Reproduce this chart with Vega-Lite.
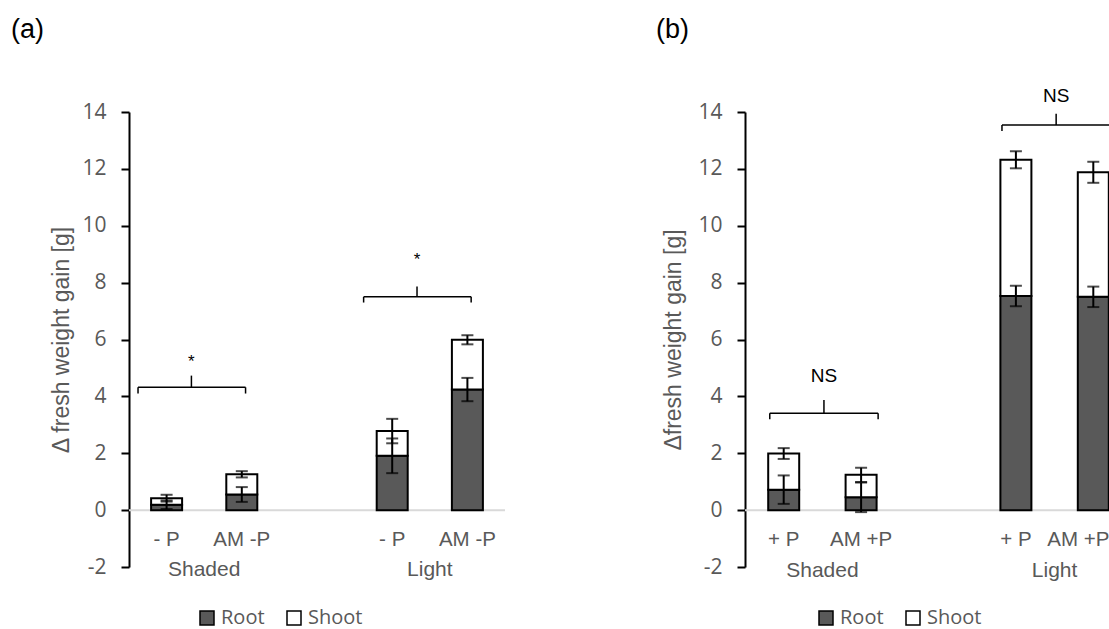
{
  "$schema": "https://vega.github.io/schema/vega-lite/v6.json",
  "padding": {"left": 11, "top": 16, "right": 0, "bottom": 0},
  "spacing": 150,
  "config": {
    "view": {"stroke": null},
    "axis": {"grid": false},
    "font": "Liberation Sans"
  },
  "datasets": {
    "bars": [
      {"panel": "a", "cat": "Shaded - P", "label": "- P", "part": "Root", "value": 0.19, "top": 0.19, "err": 0.15},
      {"panel": "a", "cat": "Shaded - P", "label": "- P", "part": "Shoot", "value": 0.23, "top": 0.42, "err": 0.12},
      {"panel": "a", "cat": "Shaded AM -P", "label": "AM -P", "part": "Root", "value": 0.55, "top": 0.55, "err": 0.26},
      {"panel": "a", "cat": "Shaded AM -P", "label": "AM -P", "part": "Shoot", "value": 0.71, "top": 1.26, "err": 0.11},
      {"panel": "a", "cat": "Light - P", "label": "- P", "part": "Root", "value": 1.91, "top": 1.91, "err": 0.61},
      {"panel": "a", "cat": "Light - P", "label": "- P", "part": "Shoot", "value": 0.87, "top": 2.78, "err": 0.43},
      {"panel": "a", "cat": "Light AM -P", "label": "AM -P", "part": "Root", "value": 4.24, "top": 4.24, "err": 0.41},
      {"panel": "a", "cat": "Light AM -P", "label": "AM -P", "part": "Shoot", "value": 1.75, "top": 5.99, "err": 0.16},
      {"panel": "b", "cat": "Shaded + P", "label": "+ P", "part": "Root", "value": 0.72, "top": 0.72, "err": 0.5},
      {"panel": "b", "cat": "Shaded + P", "label": "+ P", "part": "Shoot", "value": 1.27, "top": 1.99, "err": 0.19},
      {"panel": "b", "cat": "Shaded AM +P", "label": "AM +P", "part": "Root", "value": 0.45, "top": 0.45, "err": 0.52},
      {"panel": "b", "cat": "Shaded AM +P", "label": "AM +P", "part": "Shoot", "value": 0.79, "top": 1.24, "err": 0.25},
      {"panel": "b", "cat": "Light + P", "label": "+ P", "part": "Root", "value": 7.53, "top": 7.53, "err": 0.36},
      {"panel": "b", "cat": "Light + P", "label": "+ P", "part": "Shoot", "value": 4.79, "top": 12.32, "err": 0.3},
      {"panel": "b", "cat": "Light AM +P", "label": "AM +P", "part": "Root", "value": 7.5, "top": 7.5, "err": 0.36},
      {"panel": "b", "cat": "Light AM +P", "label": "AM +P", "part": "Shoot", "value": 4.38, "top": 11.88, "err": 0.37}
    ],
    "brackets": [
      {"panel": "a", "from": "Shaded - P", "to": "Shaded AM -P", "y": 4.32, "yEnd": 4.1, "yTop": 4.73, "label": "*", "labelY": 5.2},
      {"panel": "a", "from": "Light - P", "to": "Light AM -P", "y": 7.5, "yEnd": 7.3, "yTop": 7.86, "label": "*", "labelY": 8.8},
      {"panel": "b", "from": "Shaded + P", "to": "Shaded AM +P", "y": 3.41, "yEnd": 3.2, "yTop": 3.87, "label": "NS", "labelY": 4.7},
      {"panel": "b", "from": "Light + P", "to": "Light AM +P", "y": 13.54, "yEnd": 13.33, "yTop": 13.94, "label": "NS", "labelY": 14.56}
    ],
    "groups": [
      {"panel": "a", "group": "Shaded", "anchor": "Shaded - P"},
      {"panel": "a", "group": "Light", "anchor": "Light - P"},
      {"panel": "b", "group": "Shaded", "anchor": "Shaded + P"},
      {"panel": "b", "group": "Light", "anchor": "Light + P"}
    ]
  },
  "resolve": {"legend": {"fill": "independent"}},
  "hconcat": [
    {
      "width": 376,
      "height": 455,
      "title": {"text": "(a)", "anchor": "start", "frame": "group", "dx": -118, "offset": 36, "baseline": "alphabetic", "fontSize": 27, "fontWeight": "normal", "font": "Liberation Sans", "color": "black"},
      "layer": [
        {
          "data": {"values": [{"zero": 0}]},
          "mark": {"type": "rule", "color": "#d9d9d9", "strokeWidth": 2},
          "encoding": {
            "y": {"field": "zero", "type": "quantitative", "title": "Δ fresh weight gain [g]       ",
              "scale": {"domain": [-2, 14], "nice": false, "zero": false},
              "axis": {"title": "Δ fresh weight gain [g]       ", "values": [-2, 0, 2, 4, 6, 8, 10, 12, 14], "labelExpr": "'' + datum.value", "domainColor": "black", "domainWidth": 2, "tickColor": "black", "tickWidth": 2, "tickSize": 8, "labelPadding": 15, "labelFont": "Open Sans", "labelFontSize": 21, "labelColor": "#595959", "titleFont": "Liberation Sans", "titleFontSize": 23, "titleFontWeight": "normal", "titleColor": "#595959", "titlePadding": 8}}
          }
        },
        {
          "data": {"name": "bars"},
          "transform": [{"filter": "datum.panel === 'a'"}],
          "mark": {"type": "bar", "width": 31, "stroke": "black", "strokeWidth": 2},
          "encoding": {
            "x": {"field": "cat", "type": "nominal", "scale": {"domain": ["Shaded - P", "Shaded AM -P", " ", "Light - P", "Light AM -P"], "paddingInner": 0, "paddingOuter": 0}, "axis": null},
            "y": {"field": "value", "type": "quantitative", "stack": "zero", "title": "Δ fresh weight gain [g]       "},
            "fill": {"field": "part", "type": "nominal", "scale": {"domain": ["Root", "Shoot"], "range": ["#595959", "#ffffff"]},
              "legend": {"orient": "none", "legendX": 68, "legendY": 496, "direction": "horizontal", "title": null, "symbolType": "square", "symbolSize": 196, "symbolStrokeColor": "black", "symbolStrokeWidth": 1.5, "labelFont": "Open Sans", "labelFontSize": 20, "labelColor": "#595959", "labelOffset": 4, "columnPadding": 19}},
            "order": {"field": "part", "type": "nominal", "sort": "ascending"}
          }
        },
        {
          "data": {"name": "bars"},
          "transform": [{"filter": "datum.panel === 'a'"}],
          "mark": {"type": "errorbar", "color": "black", "ticks": {"size": 12, "thickness": 2, "color": "black"}, "rule": {"strokeWidth": 2, "color": "black"}},
          "encoding": {
            "x": {"field": "cat", "type": "nominal"},
            "y": {"field": "top", "type": "quantitative", "title": "Δ fresh weight gain [g]       "},
            "yError": {"field": "err"}
          }
        },
        {
          "data": {"name": "bars"},
          "transform": [{"filter": "datum.panel === 'a' && datum.part === 'Root'"}],
          "mark": {"type": "text", "font": "Liberation Sans", "fontSize": 20.5, "color": "#595959", "baseline": "middle"},
          "encoding": {
            "x": {"field": "cat", "type": "nominal"},
            "y": {"datum": -1.05},
            "text": {"field": "label"}
          }
        },
        {
          "data": {"name": "groups"},
          "transform": [{"filter": "datum.panel === 'a'"}],
          "mark": {"type": "text", "font": "Liberation Sans", "fontSize": 21, "color": "#595959", "baseline": "middle"},
          "encoding": {
            "x": {"field": "anchor", "type": "nominal", "bandPosition": 1},
            "y": {"datum": -2.12},
            "text": {"field": "group"}
          }
        },
        {
          "data": {"name": "brackets"},
          "transform": [{"filter": "datum.panel === 'a'"}],
          "mark": {"type": "rule", "color": "black", "strokeWidth": 1.5},
          "encoding": {
            "x": {"field": "from", "type": "nominal", "bandPosition": 0.12},
            "x2": {"field": "to", "bandPosition": 0.55},
            "y": {"field": "y", "type": "quantitative", "title": "Δ fresh weight gain [g]       "}
          }
        },
        {
          "data": {"name": "brackets"},
          "transform": [{"filter": "datum.panel === 'a'"}],
          "mark": {"type": "rule", "color": "black", "strokeWidth": 1.5},
          "encoding": {
            "x": {"field": "from", "type": "nominal", "bandPosition": 0.12},
            "y": {"field": "y", "type": "quantitative", "title": "Δ fresh weight gain [g]       "},
            "y2": {"field": "yEnd"}
          }
        },
        {
          "data": {"name": "brackets"},
          "transform": [{"filter": "datum.panel === 'a'"}],
          "mark": {"type": "rule", "color": "black", "strokeWidth": 1.5},
          "encoding": {
            "x": {"field": "to", "type": "nominal", "bandPosition": 0.55},
            "y": {"field": "y", "type": "quantitative", "title": "Δ fresh weight gain [g]       "},
            "y2": {"field": "yEnd"}
          }
        },
        {
          "data": {"name": "brackets"},
          "transform": [{"filter": "datum.panel === 'a'"}],
          "mark": {"type": "rule", "color": "black", "strokeWidth": 1.5},
          "encoding": {
            "x": {"field": "from", "type": "nominal", "bandPosition": 0.83},
            "y": {"field": "y", "type": "quantitative", "title": "Δ fresh weight gain [g]       "},
            "y2": {"field": "yTop"}
          }
        },
        {
          "data": {"name": "brackets"},
          "transform": [{"filter": "datum.panel === 'a'"}],
          "mark": {"type": "text", "font": "Liberation Sans", "fontSize": 17, "color": "black", "baseline": "middle"},
          "encoding": {
            "x": {"field": "from", "type": "nominal", "bandPosition": 0.83},
            "y": {"field": "labelY", "type": "quantitative", "title": "Δ fresh weight gain [g]       "},
            "text": {"field": "label"}
          }
        }
      ]
    },
    {
      "width": 367,
      "height": 455,
      "title": {"text": "(b)", "anchor": "start", "frame": "group", "dx": -89, "offset": 22, "baseline": "alphabetic", "fontSize": 27, "fontWeight": "normal", "font": "Liberation Sans", "color": "black"},
      "layer": [
        {
          "data": {"values": [{"zero": 0}]},
          "mark": {"type": "rule", "color": "#d9d9d9", "strokeWidth": 2},
          "encoding": {
            "y": {"field": "zero", "type": "quantitative", "title": "Δfresh weight gain [g]",
              "scale": {"domain": [-2, 14], "nice": false, "zero": false},
              "axis": {"title": "Δfresh weight gain [g]", "values": [-2, 0, 2, 4, 6, 8, 10, 12, 14], "labelExpr": "'' + datum.value", "domainColor": "black", "domainWidth": 2, "tickColor": "black", "tickWidth": 2, "tickSize": 8, "labelPadding": 15, "labelFont": "Open Sans", "labelFontSize": 21, "labelColor": "#595959", "titleFont": "Liberation Sans", "titleFontSize": 23, "titleFontWeight": "normal", "titleColor": "#595959", "titlePadding": 12}}
          }
        },
        {
          "data": {"name": "bars"},
          "transform": [{"filter": "datum.panel === 'b'"}],
          "mark": {"type": "bar", "width": 31, "stroke": "black", "strokeWidth": 2},
          "encoding": {
            "x": {"field": "cat", "type": "nominal", "scale": {"domain": ["Shaded + P", "Shaded AM +P", " ", "Light + P", "Light AM +P"], "paddingInner": 0, "paddingOuter": 0, "range": [0, 387]}, "axis": null},
            "y": {"field": "value", "type": "quantitative", "stack": "zero", "title": "Δfresh weight gain [g]"},
            "fill": {"field": "part", "type": "nominal", "scale": {"domain": ["Root", "Shoot"], "range": ["#595959", "#ffffff"]},
              "legend": {"orient": "none", "legendX": 71, "legendY": 496, "direction": "horizontal", "title": null, "symbolType": "square", "symbolSize": 196, "symbolStrokeColor": "black", "symbolStrokeWidth": 1.5, "labelFont": "Open Sans", "labelFontSize": 20, "labelColor": "#595959", "labelOffset": 4, "columnPadding": 19}},
            "order": {"field": "part", "type": "nominal", "sort": "ascending"}
          }
        },
        {
          "data": {"name": "bars"},
          "transform": [{"filter": "datum.panel === 'b'"}],
          "mark": {"type": "errorbar", "color": "black", "ticks": {"size": 12, "thickness": 2, "color": "black"}, "rule": {"strokeWidth": 2, "color": "black"}},
          "encoding": {
            "x": {"field": "cat", "type": "nominal"},
            "y": {"field": "top", "type": "quantitative", "title": "Δfresh weight gain [g]"},
            "yError": {"field": "err"}
          }
        },
        {
          "data": {"name": "bars"},
          "transform": [{"filter": "datum.panel === 'b' && datum.part === 'Root'"}],
          "mark": {"type": "text", "font": "Liberation Sans", "fontSize": 20.5, "color": "#595959", "baseline": "middle", "dx": {"expr": "datum.cat === 'Light AM +P' ? -15 : 0"}},
          "encoding": {
            "x": {"field": "cat", "type": "nominal"},
            "y": {"datum": -1.05},
            "text": {"field": "label"}
          }
        },
        {
          "data": {"name": "groups"},
          "transform": [{"filter": "datum.panel === 'b'"}],
          "mark": {"type": "text", "font": "Liberation Sans", "fontSize": 21, "color": "#595959", "baseline": "middle"},
          "encoding": {
            "x": {"field": "anchor", "type": "nominal", "bandPosition": 1},
            "y": {"datum": -2.15},
            "text": {"field": "group"}
          }
        },
        {
          "data": {"name": "brackets"},
          "transform": [{"filter": "datum.panel === 'b'"}],
          "mark": {"type": "rule", "color": "black", "strokeWidth": 1.5, "clip": true},
          "encoding": {
            "x": {"field": "from", "type": "nominal", "bandPosition": 0.32},
            "x2": {"field": "to", "bandPosition": 0.72},
            "y": {"field": "y", "type": "quantitative", "title": "Δfresh weight gain [g]"}
          }
        },
        {
          "data": {"name": "brackets"},
          "transform": [{"filter": "datum.panel === 'b'"}],
          "mark": {"type": "rule", "color": "black", "strokeWidth": 1.5, "clip": true},
          "encoding": {
            "x": {"field": "from", "type": "nominal", "bandPosition": 0.32},
            "y": {"field": "y", "type": "quantitative", "title": "Δfresh weight gain [g]"},
            "y2": {"field": "yEnd"}
          }
        },
        {
          "data": {"name": "brackets"},
          "transform": [{"filter": "datum.panel === 'b'"}],
          "mark": {"type": "rule", "color": "black", "strokeWidth": 1.5, "clip": true},
          "encoding": {
            "x": {"field": "to", "type": "nominal", "bandPosition": 0.72},
            "y": {"field": "y", "type": "quantitative", "title": "Δfresh weight gain [g]"},
            "y2": {"field": "yEnd"}
          }
        },
        {
          "data": {"name": "brackets"},
          "transform": [{"filter": "datum.panel === 'b'"}],
          "mark": {"type": "rule", "color": "black", "strokeWidth": 1.5, "clip": true},
          "encoding": {
            "x": {"field": "to", "type": "nominal", "bandPosition": 0.02},
            "y": {"field": "y", "type": "quantitative", "title": "Δfresh weight gain [g]"},
            "y2": {"field": "yTop"}
          }
        },
        {
          "data": {"name": "brackets"},
          "transform": [{"filter": "datum.panel === 'b'"}],
          "mark": {"type": "text", "font": "Liberation Sans", "fontSize": 19, "color": "black", "baseline": "middle"},
          "encoding": {
            "x": {"field": "to", "type": "nominal", "bandPosition": 0.02},
            "y": {"field": "labelY", "type": "quantitative", "title": "Δfresh weight gain [g]"},
            "text": {"field": "label"}
          }
        }
      ]
    }
  ]
}
